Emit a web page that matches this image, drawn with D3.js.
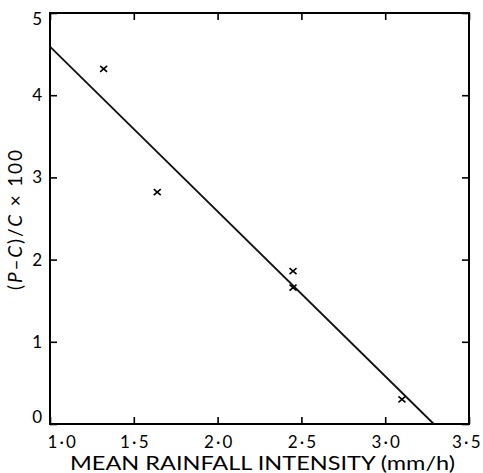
<!DOCTYPE html>
<meta charset="utf-8" />
<style>
  body { margin: 0; background: #fff; }
  .frame { fill: none; stroke: #000; stroke-width: 2px; }
  .fit { fill: none; stroke: #111; stroke-width: 1.8px; }
  .mark { stroke: #000; stroke-width: 1.6px; }
  text { font-family: Lato, "Open Sans", sans-serif; fill: #000; }
</style>
<body>
  <script src="https://d3js.org/d3.v7.min.js"></script>
  <script>
    // values
    var rainfall = [1.32, 1.64, 2.45, 2.45, 3.10];
    var excess = [4.32, 2.82, 1.86, 1.66, 0.30];
    var fitLine = [[1.0, 4.59], [3.29, 0]];
    var xTicks = [1.0, 1.5, 2.0, 2.5, 3.0, 3.5];
    var yTicks = [0, 1, 2, 3, 4, 5];

    var margin = { top: 13, right: 14, bottom: 49, left: 50 },
      width = 483 - margin.left - margin.right,
      height = 473 - margin.top - margin.bottom;

    var x = d3.scaleLinear().domain([1.0, 3.5]).range([0, width]);
    var y = d3.scaleLinear().domain([0, 5]).range([height, 0]);

    var svg = d3.select('body').append('svg')
      .attr('width', 483)
      .attr('height', 473)
      .append('g')
      .attr('transform', 'translate(' + margin.left + ',' + margin.top + ')');

    // "1·0" style labels, loosely spaced
    var fmt = function(d) { return d.toFixed(1).replace('.', '\u2009\u00b7\u2009'); };

    // axes with inward ticks on all four sides
    var bottom = svg.append('g')
      .attr('transform', 'translate(0,' + height + ')')
      .call(d3.axisBottom(x).tickValues(xTicks).tickSize(-7).tickPadding(12).tickFormat(fmt));
    bottom.selectAll('text').attr('font-size', 17);
    bottom.selectAll('.tick:first-of-type text').attr('text-anchor', 'start').attr('x', -3);
    bottom.selectAll('.tick:last-of-type text').attr('text-anchor', 'end').attr('x', 11);

    svg.append('g')
      .call(d3.axisTop(x).tickValues(xTicks).tickSize(-7).tickFormat(''));

    var left = svg.append('g')
      .call(d3.axisLeft(y).tickValues(yTicks).tickSize(-7).tickPadding(8).tickFormat(d3.format('d')));
    left.selectAll('text').attr('font-size', 17);
    left.selectAll('.tick text').filter(function(d) { return d === 0; }).attr('dy', '-0.1em');
    left.selectAll('.tick text').filter(function(d) { return d === 5; }).attr('dy', '0.65em');

    svg.append('g')
      .attr('transform', 'translate(' + width + ',0)')
      .call(d3.axisRight(y).tickValues(yTicks).tickSize(-7).tickFormat(''));

    svg.selectAll('.domain').remove();
    svg.selectAll('.tick line').attr('stroke', '#000').attr('stroke-width', 1.6);

    svg.append('rect')
      .attr('class', 'frame')
      .attr('width', width)
      .attr('height', height);

    // fitted line
    svg.append('path')
      .datum(fitLine)
      .attr('class', 'fit')
      .attr('d', d3.line().x(function(d) { return x(d[0]); }).y(function(d) { return y(d[1]); }));

    // crosses
    var pts = rainfall.map(function(r, i) { return [r, excess[i]]; });
    svg.selectAll('.mark')
      .data(pts)
      .enter().append('path')
      .attr('class', 'mark')
      .attr('transform', function(d) { return 'translate(' + x(d[0]) + ',' + y(d[1]) + ')'; })
      .attr('d', 'M-3.5,-3L3.5,3M-3.5,3L3.5,-3');

    // axis titles
    svg.append('text')
      .attr('x', (70 + 455) / 2 - margin.left)
      .attr('y', height + 46)
      .attr('text-anchor', 'middle')
      .attr('font-size', 19)
      .attr('textLength', 385)
      .attr('lengthAdjust', 'spacingAndGlyphs')
      .text('MEAN RAINFALL INTENSITY (mm/h)');

    var yl = svg.append('text')
      .attr('transform', 'translate(' + (-margin.left + 22) + ',' + (220 - margin.top) + ') rotate(-90)')
      .attr('text-anchor', 'middle')
      .attr('font-size', 19)
      .attr('textLength', 140)
      .attr('lengthAdjust', 'spacing');
    yl.append('tspan').text('(');
    yl.append('tspan').attr('font-style', 'italic').text('P');
    yl.append('tspan').text('\u2013');
    yl.append('tspan').attr('font-style', 'italic').text('C');
    yl.append('tspan').text(')/');
    yl.append('tspan').attr('font-style', 'italic').text('C');
    yl.append('tspan').text(' \u00d7 100');
  </script>
</body>
